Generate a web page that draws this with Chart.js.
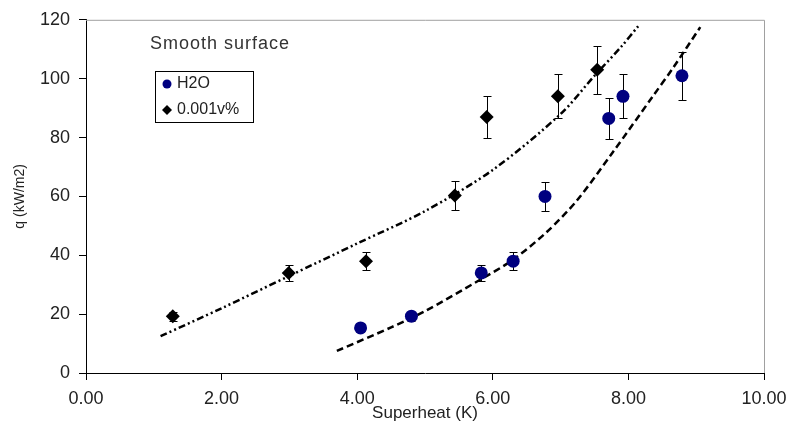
<!DOCTYPE html>
<html>
<head>
<meta charset="utf-8">
<script src="https://cdn.jsdelivr.net/npm/chart.js@4/dist/chart.umd.min.js"></script>
<style>
  html, body { margin: 0; padding: 0; background: #fff; }
  #wrap { position: relative; width: 788px; height: 427px; }
</style>
</head>
<body>
<div id="wrap"><canvas id="chartCanvas"></canvas></div>
<script>
// Measured points
const waterX = [4.05, 4.8, 5.83, 6.3, 6.77, 7.71, 7.92, 8.79];
const waterY = [15.3, 19.3, 34, 38, 60, 86.5, 94, 101];
const waterErr = [1.2, 1.5, 2.7, 3.0, 4.8, 6.9, 7.5, 8.1];

const additiveX = [1.28, 2.99, 4.13, 5.44, 5.91, 6.96, 7.54];
const additiveY = [19.3, 34, 38, 60.3, 87, 94, 103];
const additiveErr = [1.5, 2.7, 3.0, 4.8, 7.0, 7.5, 8.2];

// Fit curves
const waterFitX = [3.7, 4.5, 5.0, 5.8, 6.3, 6.8, 7.24, 7.77, 8.36, 8.66, 9.06];
const waterFitY = [7.5, 15.5, 21, 31.5, 38.5, 48, 58.6, 75, 94, 103.7, 117.5];

const additiveFitX = [1.1, 2.0, 3.0, 4.0, 5.0, 6.0, 7.0, 7.5, 7.9, 8.15];
const additiveFitY = [12.5, 22, 33, 44, 55, 69, 88, 101, 111, 118];

const seriesNames = ["H2O", "0.001v%"];
const chartNote = "Smooth surface";
const xTitle = "Superheat (K)";
const yTitle = "q (kW/m2)";

const NAVY = "#000080";
const TEXT = "#222";
const FONT = "'Liberation Sans', Arial, sans-serif";

const toPoints = (xs, ys) => xs.map((x, i) => ({ x: x, y: ys[i] }));

// error bars, drawn under the markers
const errorBars = {
  id: "errorBars",
  beforeDatasetsDraw(chart) {
    const ctx = chart.ctx;
    const xs = chart.scales.x;
    const ys = chart.scales.y;
    const sets = [
      [waterX, waterY, waterErr],
      [additiveX, additiveY, additiveErr],
    ];
    ctx.save();
    ctx.strokeStyle = "#000";
    ctx.lineWidth = 1;
    sets.forEach(([px, py, pe]) => {
      px.forEach((x, i) => {
        const cx = Math.round(xs.getPixelForValue(x)) + 0.5;
        const top = Math.round(ys.getPixelForValue(py[i] + pe[i])) + 0.5;
        const bot = Math.round(ys.getPixelForValue(py[i] - pe[i])) + 0.5;
        ctx.beginPath();
        ctx.moveTo(cx, top);
        ctx.lineTo(cx, bot);
        ctx.moveTo(cx - 4, top);
        ctx.lineTo(cx + 4, top);
        ctx.moveTo(cx - 4, bot);
        ctx.lineTo(cx + 4, bot);
        ctx.stroke();
      });
    });
    ctx.restore();
  },
};

// gray frame on top/right, note and boxed legend
const decorations = {
  id: "decorations",
  afterDraw(chart) {
    const ctx = chart.ctx;
    const a = chart.chartArea;
    ctx.save();
    ctx.strokeStyle = "#a0a0a0";
    ctx.lineWidth = 1;
    ctx.beginPath();
    ctx.moveTo(a.left, a.top + 0.5);
    ctx.lineTo(a.right + 0.5, a.top + 0.5);
    ctx.lineTo(a.right + 0.5, a.bottom);
    ctx.stroke();

    ctx.fillStyle = "#333";
    ctx.font = "18px " + FONT;
    ctx.letterSpacing = "1px";
    ctx.textBaseline = "alphabetic";
    ctx.fillText(chartNote, 150, 49);
    ctx.letterSpacing = "0px";

    // legend box
    ctx.strokeStyle = "#000";
    ctx.strokeRect(155.5, 71.5, 98, 51);

    ctx.fillStyle = NAVY;
    ctx.beginPath();
    ctx.arc(167, 84, 4.5, 0, Math.PI * 2);
    ctx.fill();

    ctx.fillStyle = "#000";
    ctx.beginPath();
    ctx.moveTo(162, 110);
    ctx.lineTo(167, 105);
    ctx.lineTo(172, 110);
    ctx.lineTo(167, 115);
    ctx.closePath();
    ctx.fill();

    ctx.fillStyle = TEXT;
    ctx.font = "16px " + FONT;
    ctx.textBaseline = "middle";
    ctx.fillText(seriesNames[0], 177, 84);
    ctx.fillText(seriesNames[1], 177, 110);
    ctx.restore();
  },
};

const ctx = document.getElementById("chartCanvas").getContext("2d");

new Chart(ctx, {
  type: "scatter",
  data: {
    datasets: [
      {
        label: seriesNames[0],
        data: toPoints(waterX, waterY),
        pointStyle: "circle",
        pointRadius: 6.5,
        pointBackgroundColor: NAVY,
        pointBorderColor: NAVY,
        pointBorderWidth: 0,
      },
      {
        label: seriesNames[1],
        data: toPoints(additiveX, additiveY),
        pointStyle: "rectRot",
        pointRadius: 7,
        pointBackgroundColor: "#000",
        pointBorderColor: "#000",
        pointBorderWidth: 0,
      },
      {
        label: "H2O fit",
        data: toPoints(waterFitX, waterFitY),
        showLine: true,
        pointRadius: 0,
        borderColor: "#000",
        borderWidth: 2.5,
        borderDash: [7, 4],
        tension: 0.3,
      },
      {
        label: "0.001v% fit",
        data: toPoints(additiveFitX, additiveFitY),
        showLine: true,
        pointRadius: 0,
        borderColor: "#000",
        borderWidth: 2.5,
        borderDash: [7, 3, 2, 3, 2, 3],
        tension: 0.3,
      },
    ],
  },
  options: {
    responsive: true,
    maintainAspectRatio: false,
    animation: false,
    layout: { padding: { top: 19, right: 24, left: 0, bottom: 0 } },
    plugins: {
      legend: { display: false },
      tooltip: { enabled: false },
    },
    scales: {
      x: {
        type: "linear",
        min: 0,
        max: 10,
        afterFit: (s) => {
          s.height = 54;
          s.paddingRight = 20;
          s.paddingLeft = 0;
        },
        ticks: {
          stepSize: 2,
          color: TEXT,
          padding: 8,
          font: { family: FONT, size: 18 },
          callback: (v) => v.toFixed(2),
        },
        grid: { drawOnChartArea: false, drawTicks: true, tickLength: 7, color: "#000" },
        border: { display: true, color: "#000", width: 1 },
        title: {
          display: true,
          text: xTitle,
          color: TEXT,
          font: { family: FONT, size: 17 },
          padding: { top: 0, bottom: 3 },
        },
      },
      y: {
        type: "linear",
        min: 0,
        max: 120,
        afterFit: (s) => { s.width = 86; },
        ticks: {
          stepSize: 20,
          color: TEXT,
          padding: 9,
          font: { family: FONT, size: 18 },
        },
        grid: { drawOnChartArea: false, drawTicks: true, tickLength: 7, color: "#000" },
        border: { display: true, color: "#000", width: 1 },
        title: {
          display: true,
          text: yTitle,
          color: TEXT,
          font: { family: FONT, size: 14 },
          padding: { top: 12, bottom: 0 },
        },
      },
    },
  },
  plugins: [errorBars, decorations],
});
</script>
</body>
</html>
